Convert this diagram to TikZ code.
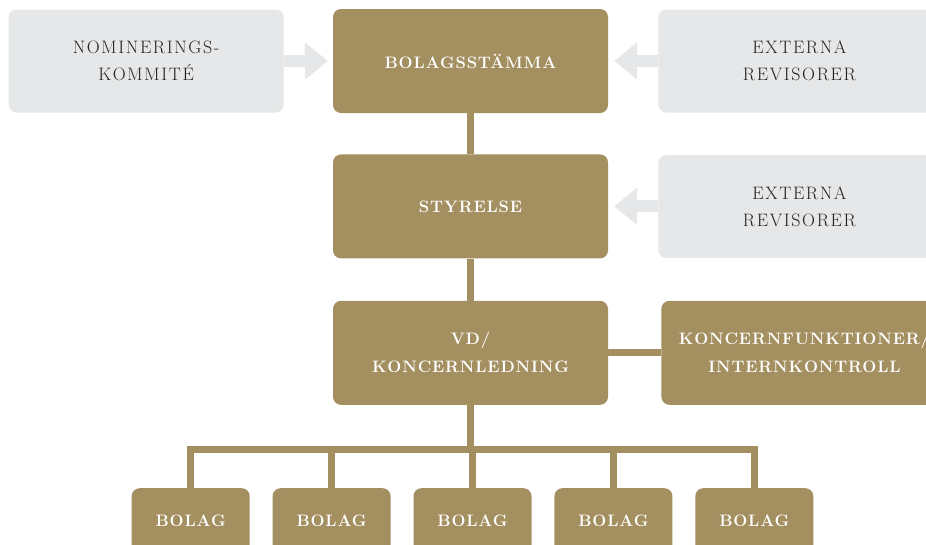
\documentclass[tikz,border=0pt]{standalone}
\usepackage{fontspec}
\usetikzlibrary{arrows.meta, positioning}

\definecolor{gold}{HTML}{A38F5F}
\definecolor{paleGray}{HTML}{E6E7E8}
\definecolor{inkGray}{HTML}{222222}

\newfontfamily\spacedserif[LetterSpace=9]{Latin Modern Roman}
\newfontfamily\spacedbold[LetterSpace=5]{Latin Modern Roman}
\newcommand{\plainlabel}{\spacedserif\fontsize{18}{27}\selectfont}
\newcommand{\boldlabel}{\spacedbold\fontsize{16.6}{28}\selectfont\bfseries}

\begin{document}
\begin{tikzpicture}[x=1pt, y=-1pt,
    goldbox/.style={fill=gold, rounded corners=8pt, minimum width=275pt, minimum height=104pt,
                    text=white, font=\boldlabel, align=center, inner sep=0pt},
    graybox/.style={fill=paleGray, rounded corners=8pt, minimum width=275pt, minimum height=103pt,
                    text=inkGray, font=\plainlabel, align=center, inner sep=0pt},
    unitbox/.style={goldbox, minimum width=118pt, minimum height=66pt},
    link/.style={draw=gold, line width=7pt},
    feed/.style={draw=paleGray, line width=12pt, -{Triangle[length=23pt, width=36pt]}}
  ]

  % page frame
  \useasboundingbox (0,0) rectangle (926,544);
  \clip (0,0) rectangle (926,544);

  % main column
  \node[goldbox] (stamma) at (470.5,61) {BOLAGSSTÄMMA};
  \node[goldbox, below=41pt of stamma] (styrelse) {STYRELSE};
  \node[goldbox, below=42pt of styrelse] (vd) {VD/\\KONCERNLEDNING};

  % side boxes
  \node[graybox, left=49pt of stamma] (nomkom) {NOMINERINGS-\\KOMMITÉ};
  \node[graybox, right=50pt of stamma, minimum width=282pt] (revisor1) {EXTERNA\\REVISORER};
  \node[graybox, right=50pt of styrelse, minimum width=282pt] (revisor2) {EXTERNA\\REVISORER};
  \node[goldbox, right=53pt of vd, minimum width=286pt] (koncern) {KONCERNFUNKTIONER/\\INTERNKONTROLL};

  % subsidiaries
  \node[unitbox, below=83pt of vd, xshift=2pt] (bolag3) {BOLAG};
  \node[unitbox, left=22.5pt of bolag3] (bolag2) {BOLAG};
  \node[unitbox, left=22.5pt of bolag2] (bolag1) {BOLAG};
  \node[unitbox, right=22.5pt of bolag3] (bolag4) {BOLAG};
  \node[unitbox, right=22.5pt of bolag4] (bolag5) {BOLAG};
  \coordinate (bus) at ([yshift=-44pt]vd.south);

  % connectors
  \draw[link] (stamma.south) -- (styrelse.north);
  \draw[link] (styrelse.south) -- (vd.north);
  \draw[link] (vd.east) -- (koncern.west);
  \draw[link] (vd.south) -- (bus);
  \draw[link, line join=miter] (bolag1.north) |- (bus) -| (bolag5.north);
  \foreach \k in {2,3,4}
    \draw[link] (bolag\k.north) -- (bolag\k.north |- bus);

  % arrows into the board levels
  \draw[feed, shorten >=5pt] (nomkom.east) -- (stamma.west);
  \draw[feed, shorten >=6pt] (revisor1.west) -- (stamma.east);
  \draw[feed, shorten >=6pt] (revisor2.west) -- (styrelse.east);

\end{tikzpicture}
\end{document}
